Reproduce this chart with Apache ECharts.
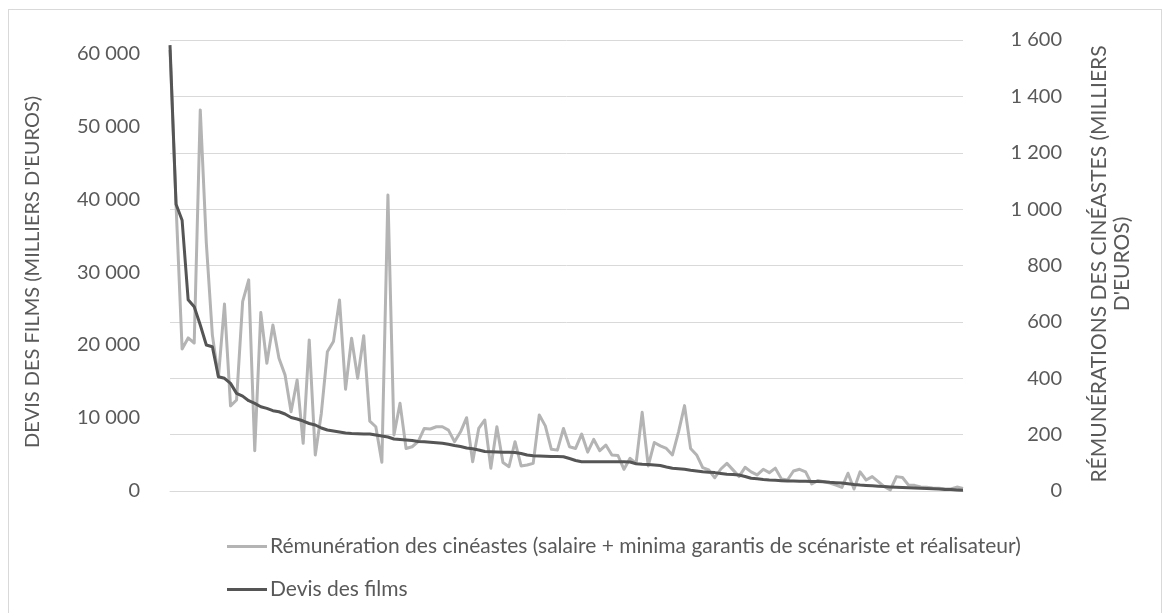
<!DOCTYPE html>
<html><head><meta charset="utf-8">
<script src="https://cdn.jsdelivr.net/npm/echarts@6/dist/echarts.min.js"></script>
<style>
html,body{margin:0;padding:0;background:#fff;}
#frame{position:absolute;left:8px;top:9px;width:1154px;height:620px;border:1px solid #d9d9d9;box-sizing:border-box;}
#c{position:absolute;left:0;top:0;width:1171px;height:613px;}
</style></head>
<body><div id="frame"></div><div id="c"></div>
<script>
// Devis des films (milliers d'euros), left axis
const devis = [61100,39300,37100,26200,25250,22740,20000,19770,15660,15440,
14750,13380,13000,12370,12010,11550,11320,11000,10860,10550,
10070,9860,9590,9250,9040,8630,8360,8220,8080,7950,
7880,7840,7810,7810,7670,7540,7400,7120,7060,6990,
6920,6780,6740,6670,6600,6530,6410,6230,6100,5890,
5780,5620,5410,5370,5340,5300,5300,5270,5140,4930,
4840,4800,4770,4740,4730,4700,4450,4180,4010,4010,
4010,4010,4010,4010,4010,4010,3970,3740,3670,3620,
3560,3490,3290,3110,3040,2970,2840,2740,2640,2580,
2520,2400,2290,2260,2190,1990,1740,1670,1580,1510,
1470,1420,1370,1360,1330,1320,1300,1290,1260,1190,
1140,1100,990,890,820,770,710,660,600,560,
520,480,440,400,370,340,300,260,220,190,
150,110];
// Rémunération des cinéastes (milliers d'euros), right axis
const remun = [1565,1015,504,543,525,1352,880,553,404,663,
302,323,672,749,143,633,453,589,471,412,
281,394,169,536,128,276,494,530,678,361,
542,400,551,248,228,102,1050,199,311,151,
157,175,222,220,228,228,216,175,210,260,
104,222,252,81,228,101,86,175,89,92,
98,270,231,148,145,222,157,151,202,138,
183,143,163,128,126,77,116,98,279,89,
172,160,151,128,209,303,151,128,83,75,
47,78,98,75,51,84,68,57,77,65,
81,43,39,71,77,68,25,37,33,28,
21,13,63,7,68,39,51,33,15,4,
51,48,21,20,14,13,11,10,8,7,
14,9];
const films = devis.map((d,i)=>String(i+1));
const leftTicks = [0,10000,20000,30000,40000,50000,60000];
const rightTicks = [0,200,400,600,800,1000,1200,1400,1600];
const seriesNames = ["Rémunération des cinéastes (salaire + minima garantis de scénariste et réalisateur)","Devis des films"];
const leftTitle = "DEVIS DES FILMS (MILLIERS D'EUROS)";
const rightTitle = "RÉMUNÉRATIONS DES CINÉASTES (MILLIERS\nD'EUROS)";

const fmt = v => String(v).replace(/\B(?=(\d{3})+(?!\d))/g,' ');
const FONT = 'Lato';
const TXT = '#595959';
const FS = 20;
const FS2 = 21;
const chart = echarts.init(document.getElementById('c'));
chart.setOption({
  animation:false,
  textStyle:{fontFamily:FONT},
  grid:{left:170,right:208,top:40,bottom:122},
  xAxis:{type:'category',data:films,boundaryGap:false,
    axisLine:{show:true,lineStyle:{color:'#d9d9d9'}},axisTick:{show:false},axisLabel:{show:false},splitLine:{show:false}},
  yAxis:[
    {type:'value',min:0,max:61800,interval:10000,position:'left',
     axisLine:{show:false},axisTick:{show:false},splitLine:{show:false},
     axisLabel:{margin:30,color:TXT,fontSize:FS,fontFamily:FONT,showMaxLabel:false,
       formatter:v=>leftTicks.includes(v)?fmt(v):''}},
    {type:'value',min:0,max:1600,interval:200,position:'right',
     axisLine:{show:false},axisTick:{show:false},
     splitLine:{show:true,lineStyle:{color:'#d9d9d9',width:1}},
     axisLabel:{margin:99,align:'right',color:TXT,fontSize:FS,fontFamily:FONT,
       formatter:v=>rightTicks.includes(v)?fmt(v):''}}
  ],
  legend:{orient:'vertical',left:222,top:531,itemGap:22,itemWidth:40,itemHeight:3,icon:'rect',
    textStyle:{color:TXT,fontSize:FS2,fontFamily:FONT,padding:[0,0,0,-2]},
    data:seriesNames},
  graphic:[
    {type:'text',x:33,y:272,rotation:Math.PI/2,
     style:{text:leftTitle,fill:TXT,font:FS+'px '+FONT,align:'center',verticalAlign:'middle'}},
    {type:'text',x:1111,y:264,rotation:Math.PI/2,
     style:{text:rightTitle,fill:TXT,font:FS2+'px '+FONT,align:'center',verticalAlign:'middle',lineHeight:23}}
  ],
  series:[
    {name:seriesNames[0],type:'line',yAxisIndex:1,data:remun,showSymbol:false,symbol:'none',
     lineStyle:{color:'#b4b4b4',width:3,join:'round'},itemStyle:{color:'#b4b4b4'}},
    {name:seriesNames[1],type:'line',yAxisIndex:0,data:devis,showSymbol:false,symbol:'none',
     lineStyle:{color:'#555555',width:3,join:'round'},itemStyle:{color:'#555555'}}
  ]
});
</script></body></html>
